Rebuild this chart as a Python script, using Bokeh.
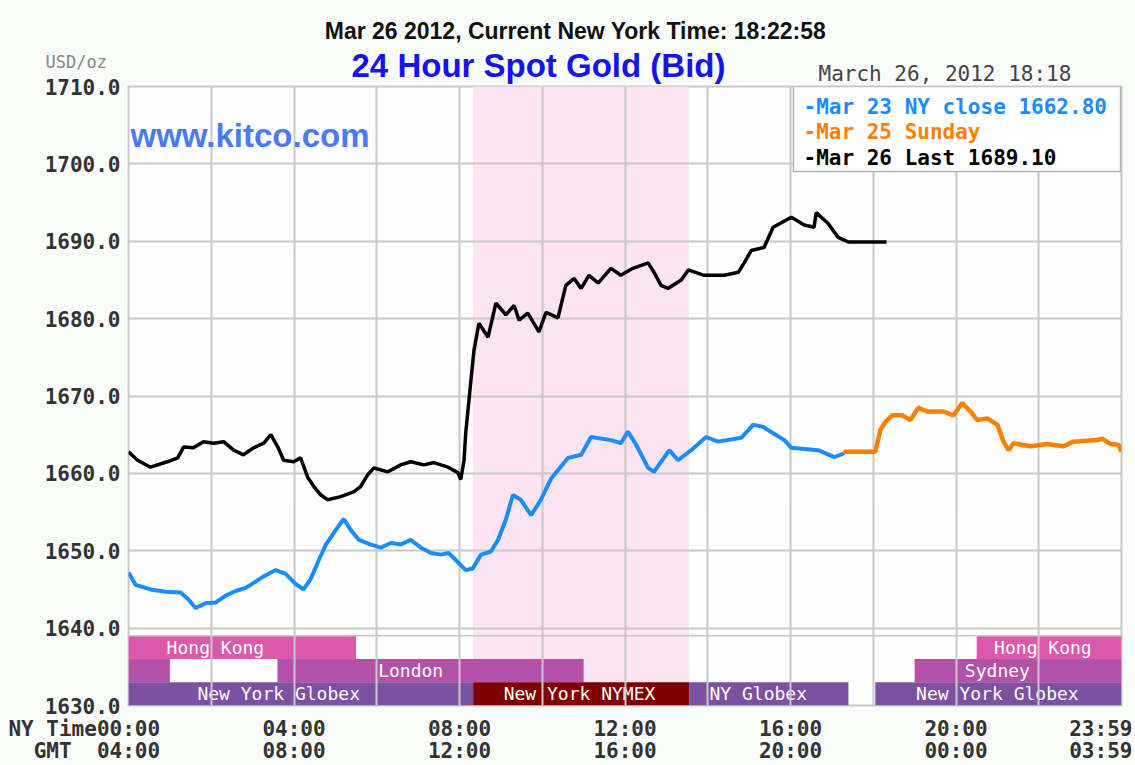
from bokeh.plotting import figure
from bokeh.layouts import column
from bokeh.models import (Range1d, FixedTicker, NumeralTickFormatter, Label,
                          BoxAnnotation, Span, ColumnDataSource, LinearAxis)
from bokeh.core.properties import value
from bokeh.embed import file_html
from bokeh.resources import INLINE

# ---------------- data ----------------
x_min, x_max = 0, 24
y_min, y_max = 1630, 1710

y_ticks = [1630, 1640, 1650, 1660, 1670, 1680, 1690, 1700, 1710]
grid_hours = [0, 2, 4, 6, 8, 10, 12, 14, 16, 18, 20, 22, 24]
time_ticks = [0, 4, 8, 12, 16, 20, 23.5]
ny_labels = ["00:00", "04:00", "08:00", "12:00", "16:00", "20:00", "23:59"]
gmt_labels = ["04:00", "08:00", "12:00", "16:00", "20:00", "00:00", "03:59"]
ny_row_title = "NY Time"
gmt_row_title = "GMT"

# Mar 23 (Friday) - blue
blue_hr = [0.00, 0.17, 0.53, 0.90, 1.26, 1.45, 1.62, 1.86, 2.10, 2.35, 2.59, 2.83, 3.07, 3.24,
           3.56, 3.80, 4.04, 4.23, 4.40, 4.60, 4.77, 5.01, 5.20, 5.37, 5.57, 5.86, 6.10, 6.34,
           6.58, 6.82, 7.07, 7.31, 7.55, 7.74, 7.91, 8.15, 8.32, 8.52, 8.76, 8.93, 9.12, 9.29,
           9.48, 9.73, 9.97, 10.21, 10.62, 10.94, 11.18, 11.66, 11.90, 12.07, 12.27, 12.56,
           12.70, 13.07, 13.28, 13.60, 13.96, 14.25, 14.81, 15.10, 15.34, 15.85, 16.02, 16.67,
           17.06, 17.30]
blue_usd = [1647.2, 1645.6, 1645.0, 1644.7, 1644.6, 1643.7, 1642.6, 1643.2, 1643.3, 1644.2,
            1644.8, 1645.2, 1646.0, 1646.6, 1647.5, 1647.0, 1645.7, 1645.0, 1646.3, 1648.8,
            1650.8, 1652.7, 1654.1, 1652.7, 1651.4, 1650.8, 1650.4, 1651.0, 1650.8, 1651.4,
            1650.4, 1649.7, 1649.5, 1649.7, 1648.8, 1647.5, 1647.7, 1649.5, 1649.9, 1651.4,
            1654.0, 1657.2, 1656.6, 1654.6, 1656.6, 1659.3, 1662.0, 1662.4, 1664.7, 1664.3,
            1663.9, 1665.4, 1663.7, 1660.7, 1660.2, 1663.0, 1661.7, 1663.0, 1664.7, 1664.1,
            1664.6, 1666.3, 1666.0, 1664.3, 1663.3, 1663.0, 1662.1, 1662.6]

# Mar 25 (Sunday) - orange
orange_hr = [17.28, 18.05, 18.17, 18.30, 18.46, 18.70, 18.90, 19.09, 19.30, 19.70, 19.94,
             20.15, 20.35, 20.51, 20.75, 21.00, 21.15, 21.27, 21.39, 21.80, 22.20, 22.60,
             22.84, 23.41, 23.53, 23.73, 23.93, 24.0]
orange_usd = [1662.8, 1662.8, 1665.6, 1666.7, 1667.5, 1667.5, 1666.9, 1668.5, 1668.0, 1668.0,
              1667.5, 1669.1, 1668.0, 1666.9, 1667.1, 1666.3, 1664.1, 1663.0, 1663.9, 1663.5,
              1663.8, 1663.5, 1664.1, 1664.3, 1664.5, 1663.8, 1663.7, 1662.8]

# Mar 26 (today) - black
black_hr = [0.00, 0.22, 0.53, 0.94, 1.19, 1.33, 1.57, 1.81, 2.06, 2.30,
            2.54, 2.78, 3.02, 3.27, 3.44, 3.61, 3.75, 3.99, 4.16, 4.33,
            4.48, 4.65, 4.81, 5.13, 5.44, 5.61, 5.78, 5.93, 6.27, 6.58,
            6.82, 7.14, 7.38, 7.72, 7.96, 8.03, 8.11, 8.15, 8.27, 8.35,
            8.47, 8.69, 8.88, 9.12, 9.32, 9.44, 9.65, 9.92, 10.09, 10.38,
            10.57, 10.77, 10.94, 11.13, 11.35, 11.66, 11.90, 12.19, 12.56, 12.70,
            12.87, 13.04, 13.36, 13.53, 13.91, 14.40, 14.74, 14.88, 15.05, 15.36,
            15.58, 16.02, 16.33, 16.57, 16.62, 16.91, 17.15, 17.40, 18.12, 18.32]
black_usd = [1662.8, 1661.7, 1660.8, 1661.5, 1662.0, 1663.4, 1663.3, 1664.1, 1663.9, 1664.1,
             1663.0, 1662.4, 1663.3, 1663.9, 1665.0, 1663.4, 1661.7, 1661.5, 1662.0, 1659.5,
             1658.3, 1657.2, 1656.6, 1657.0, 1657.6, 1658.3, 1659.8, 1660.7, 1660.2, 1661.1,
             1661.5, 1661.1, 1661.4, 1660.8, 1660.1, 1659.2, 1661.7, 1665.2, 1671.7, 1675.9,
             1679.4, 1677.6, 1682.0, 1680.5, 1681.7, 1679.8, 1680.7, 1678.3, 1680.8, 1680.1,
             1684.3, 1685.2, 1683.9, 1685.6, 1684.6, 1686.5, 1685.6, 1686.5, 1687.2, 1686.0,
             1684.3, 1683.9, 1685.0, 1686.3, 1685.6, 1685.6, 1686.0, 1687.2, 1688.8, 1689.2,
             1691.8, 1693.1, 1692.1, 1691.8, 1693.7, 1692.3, 1690.5, 1689.9, 1689.9, 1689.9]

# NYMEX trading window (shaded)
nymex_start, nymex_end = 8.33, 13.55

# market sessions (hours NY time) and their rows (0 bottom, 1 middle, 2 top)
sess_start = [0.0, 20.5, 0.0, 3.6, 19.0, 0.0, 8.33, 13.55, 18.05]
sess_end = [5.5, 24.0, 1.0, 11.0, 24.0, 8.33, 13.55, 17.4, 24.0]
sess_row = [2, 2, 1, 1, 1, 0, 0, 0, 0]
sess_kind = ["hk", "hk", "syd", "lon", "syd", "globex", "nymex", "globex", "globex"]

sess_label_text = ["Hong Kong", "Hong Kong", "London", "Sydney",
                   "New York Globex", "New York NYMEX", "NY Globex", "New York Globex"]
sess_label_hr = [2.1, 22.1, 6.82, 21.0, 3.63, 10.9, 15.22, 21.0]
sess_label_row = [2, 2, 1, 1, 0, 0, 0, 0]

legend_text = ["-Mar 23 NY close 1662.80", "-Mar 25 Sunday", "-Mar 26 Last 1689.10"]

clock_text = "Mar 26 2012, Current New York Time: 18:22:58"
title_text = "24 Hour Spot Gold (Bid)"
unit_text = "USD/oz"
stamp_text = "March 26, 2012 18:18"
site_text = "www.kitco.com"

# ---------------- styling ----------------
W, H = 1135, 765
HEAD_H = 86
OVERLAP = 10
row_bottoms = [1630.0, 1633.0, 1636.0]
row_h = 3.0
kind_color = {"hk": "#dc58aa", "syd": "#b450a8", "lon": "#b450a8",
              "globex": "#7b52a2", "nymex": "#800000"}
BLUE = "#1a8cff"
ORANGE = "#ff8000"
BLACK = "#000000"
GRID = "#c8c8c8"
BG = "#fafcfa"
MONO = "DejaVu Sans Mono"
SANS = "Liberation Sans"
NB = "\u00a0"

# ---------------- header strip ----------------
head = figure(width=W, height=HEAD_H, x_range=Range1d(0, W), y_range=Range1d(HEAD_H, 0),
              x_axis_type=None, y_axis_type=None, output_backend="svg",
              toolbar_location=None, min_border=0)
head.frame_align = False
head.outline_line_color = None
head.background_fill_color = BG
head.border_fill_color = BG
head.grid.visible = False
head.text(x=[575], y=[30], text=[clock_text], text_font=value(SANS),
          text_font_style="bold", text_font_size="23px", text_color="#111111",
          text_align="center", text_baseline="middle")
head.text(x=[538], y=[65], text=[title_text], text_font=value(SANS),
          text_font_style="bold", text_font_size="33px", text_color="#1414f0",
          text_align="center", text_baseline="middle")
head.text(x=[45], y=[61], text=[unit_text], text_font=value(MONO),
          text_font_size="17px", text_color="#888888",
          text_align="left", text_baseline="middle")
head.text(x=[818], y=[73], text=[stamp_text], text_font=value(MONO),
          text_font_size="21px", text_color="#444444",
          text_align="left", text_baseline="middle")

# ---------------- main chart ----------------
p = figure(width=W, height=H - HEAD_H + OVERLAP, x_range=Range1d(x_min, x_max),
           y_range=Range1d(y_min, y_max), output_backend="svg",
           toolbar_location=None, min_border_left=128, min_border_right=14,
           min_border_top=OVERLAP, min_border_bottom=59)
p.frame_align = False
p.margin = (-OVERLAP, 0, 0, 0)
p.background_fill_color = "#fcfdfc"
p.border_fill_color = BG
p.border_fill_alpha = 0.0
p.outline_line_color = GRID
p.outline_line_width = 2

# shaded NYMEX window
p.quad(left=[nymex_start], right=[nymex_end], bottom=[y_min], top=[y_max],
       fill_color="#fce4f2", line_color=None, level="image")

# sessions
sess_src = ColumnDataSource(dict(
    left=sess_start, right=sess_end,
    bottom=[row_bottoms[r] for r in sess_row],
    top=[row_bottoms[r] + row_h for r in sess_row],
    color=[kind_color[k] for k in sess_kind]))
p.quad(left="left", right="right", bottom="bottom", top="top", source=sess_src,
       fill_color="color", line_color=None, level="image")

lab_src = ColumnDataSource(dict(
    x=sess_label_hr, y=[row_bottoms[r] + row_h / 2 for r in sess_label_row],
    text=sess_label_text))
p.text(x="x", y="y", text="text", source=lab_src, text_color="white",
       text_font=value(MONO), text_font_size="18px", text_align="center",
       text_baseline="middle", level="image")

# grid
p.xgrid.ticker = FixedTicker(ticks=grid_hours)
p.ygrid.ticker = FixedTicker(ticks=y_ticks)
for g in (p.xgrid, p.ygrid):
    g.grid_line_color = GRID
    g.grid_line_width = 2
p.add_layout(Span(location=row_bottoms[2] + row_h, dimension="width",
                  line_color=GRID, line_width=1.5))

# series
p.line(blue_hr, blue_usd, line_color=BLUE, line_width=4)
p.line(orange_hr, orange_usd, line_color=ORANGE, line_width=4.5)
p.line(black_hr, black_usd, line_color=BLACK, line_width=3.5)

# axes: the first label of each time row carries the row title, padded so the time stays centred
def with_row_title(row_title, first, gap):
    return row_title + NB * gap + first + NB * (len(row_title) + gap)

ny_over = {t: s for t, s in zip(time_ticks, ny_labels)}
ny_over[time_ticks[0]] = with_row_title(ny_row_title, ny_labels[0], 0)
gmt_over = {t: s for t, s in zip(time_ticks, gmt_labels)}
gmt_over[time_ticks[0]] = with_row_title(gmt_row_title, gmt_labels[0], 2)

p.yaxis.ticker = FixedTicker(ticks=y_ticks)
p.yaxis.formatter = NumeralTickFormatter(format="0.0")
p.xaxis.ticker = FixedTicker(ticks=time_ticks)
p.xaxis.major_label_overrides = ny_over
gmt_axis = LinearAxis(ticker=FixedTicker(ticks=time_ticks), major_label_overrides=gmt_over)
p.add_layout(gmt_axis, "below")
for ax in (p.xaxis[0], gmt_axis, p.yaxis[0]):
    ax.axis_line_color = None
    ax.major_tick_line_color = None
    ax.minor_tick_line_color = None
    ax.major_tick_out = 0
    ax.major_tick_in = 0
    ax.major_label_text_font = MONO
    ax.major_label_text_font_style = "bold"
    ax.major_label_text_font_size = "21px"
    ax.major_label_text_color = "#333333"
p.yaxis.major_label_standoff = 8
p.xaxis[0].major_label_standoff = 11
gmt_axis.major_label_text_line_height = 0.8
gmt_axis.major_label_standoff = -5

# site label
p.add_layout(Label(x=2, y=570, x_units="screen", y_units="screen", text=site_text,
                   text_font=SANS, text_font_style="bold", text_font_size="33px",
                   text_color="#4a7af5", text_baseline="middle"))

# legend box
p.add_layout(BoxAnnotation(left=665, right=992, top=619, bottom=534,
                           left_units="screen", right_units="screen",
                           top_units="screen", bottom_units="screen",
                           fill_color="white", fill_alpha=1.0,
                           line_color="#b4b4b4", line_width=1.5, line_alpha=1.0))
for i, (txt, col) in enumerate(zip(legend_text, [BLUE, ORANGE, BLACK])):
    p.add_layout(Label(x=675, y=599 - 25.5 * i, x_units="screen", y_units="screen",
                       text=txt, text_font=MONO, text_font_style="bold",
                       text_font_size="21px", text_color=col, text_baseline="middle"))

layout = column(head, p, spacing=0)
layout.styles = {"background-color": BG}
open("out.html", "w").write(file_html(layout, INLINE))
